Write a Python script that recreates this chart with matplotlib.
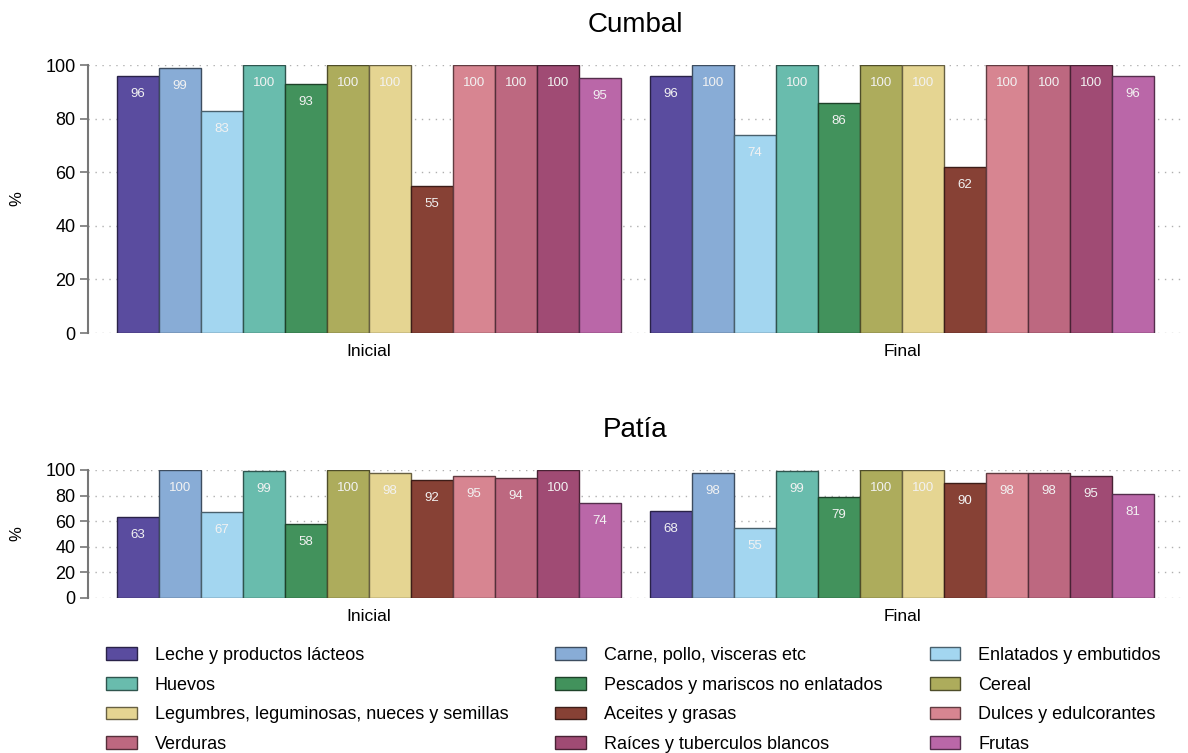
import numpy as np
import matplotlib
matplotlib.use("Agg")
import matplotlib.pyplot as plt
from matplotlib.patches import Patch
from matplotlib.colors import to_rgb

plt.rcParams["font.family"] = ["Liberation Sans", "DejaVu Sans"]

# ---------------- Data ----------------
CATEGORIES = [
    "Leche y productos lácteos",
    "Carne, pollo, visceras etc",
    "Enlatados y embutidos",
    "Huevos",
    "Pescados y mariscos no enlatados",
    "Cereal",
    "Legumbres, leguminosas, nueces y semillas",
    "Aceites y grasas",
    "Dulces y edulcorantes",
    "Verduras",
    "Raíces y tuberculos blancos",
    "Frutas",
]
GROUPS = ["Inicial", "Final"]

CUMBAL_INICIAL = [96, 99, 83, 100, 93, 100, 100, 55, 100, 100, 100, 95]
CUMBAL_FINAL = [96, 100, 74, 100, 86, 100, 100, 62, 100, 100, 100, 96]
PATIA_INICIAL = [63, 100, 67, 99, 58, 100, 98, 92, 95, 94, 100, 74]
PATIA_FINAL = [68, 98, 55, 99, 79, 100, 100, 90, 98, 98, 95, 81]

COLORS = [
    "#5a4c9f", "#88acd6", "#a3d6f0", "#69bcad", "#42925c", "#adac5c",
    "#e5d592", "#874135", "#d78591", "#bd6880", "#a04b74", "#ba67a8",
]

# ---------------- Layout ----------------
GAP = 0.69  # gap between groups, in bar widths
N = len(CATEGORIES)


def darker(c, f=0.45):
    r, g, b = to_rgb(c)
    return (r * f, g * f, b * f)


def draw_panel(ax, title, values_by_group):
    for g, vals in enumerate(values_by_group):
        start = g * (N + GAP)
        xs = start + np.arange(N) + 0.5
        for i, v in enumerate(vals):
            ax.bar(xs[i], v, width=1.0, color=COLORS[i],
                   edgecolor=darker(COLORS[i]), linewidth=1.0, zorder=3)
            ax.annotate(f"{v:d}", (xs[i], v), xytext=(0, -13),
                        textcoords="offset points", ha="center", va="center",
                        fontsize=9.5, color="#f2f2f2", zorder=4)
    ax.set_xlim(-GAP, 2 * N + 2 * GAP)
    ax.set_ylim(0, 100)
    ax.set_yticks(np.arange(0, 101, 20))
    centers = [g * (N + GAP) + N / 2 for g in range(len(GROUPS))]
    ax.set_xticks(centers)
    ax.set_xticklabels(GROUPS, fontsize=12.5)
    ax.tick_params(axis="x", length=0, pad=8)
    ax.tick_params(axis="y", labelsize=13, length=6, width=1.2,
                   color="#777777", pad=3)
    ax.grid(axis="y", linestyle=(0, (1, 4)), color="#b0b0b0",
            linewidth=1.0, zorder=0)
    for s in ["top", "right", "bottom"]:
        ax.spines[s].set_visible(False)
    ax.spines["left"].set_color("#777777")
    ax.spines["left"].set_linewidth(1.5)
    ax.set_ylabel("%", fontsize=12)
    ax.yaxis.set_label_coords(-64 / 1095, 0.5)
    ax.set_title(title, fontsize=20, pad=24)


fig = plt.figure(figsize=(11.88, 7.53), dpi=100)

ax1 = fig.add_axes([88 / 1188, 1 - 333 / 753, 1095 / 1188, 268 / 753])
draw_panel(ax1, "Cumbal", [CUMBAL_INICIAL, CUMBAL_FINAL])

ax2 = fig.add_axes([88 / 1188, 1 - 598 / 753, 1095 / 1188, 128 / 753])
draw_panel(ax2, "Patía", [PATIA_INICIAL, PATIA_FINAL])

# Legend: row-major order in 3 columns (matplotlib fills column-major)
handles = [Patch(facecolor=COLORS[i], edgecolor=darker(COLORS[i]), linewidth=1.0)
           for i in range(N)]
ncol = 3
nrow = N // ncol
order = [r * ncol + c for c in range(ncol) for r in range(nrow)]
fig.legend([handles[i] for i in order], [CATEGORIES[i] for i in order],
           loc="upper left", bbox_to_anchor=(106 / 1188, 1 - 647 / 753),
           ncol=ncol, frameon=False, fontsize=13, borderpad=0,
           borderaxespad=0, handlelength=1.7, handleheight=0.68,
           handletextpad=1.0, columnspacing=2.6, labelspacing=0.7)

fig.savefig("out.png", dpi=100)
plt.close(fig)
